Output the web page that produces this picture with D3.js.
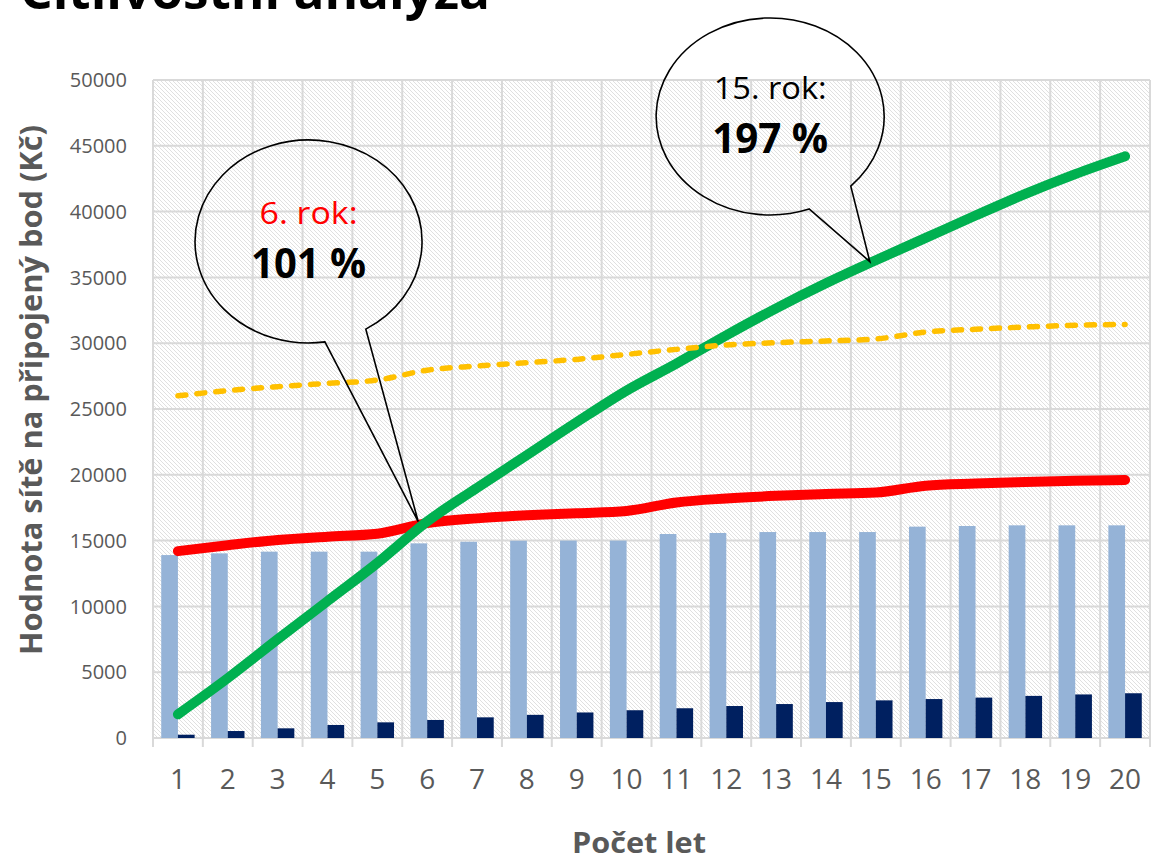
<!DOCTYPE html>
<html><head><meta charset="utf-8">
<script src="https://cdn.jsdelivr.net/npm/d3@7"></script>
<style>body{margin:0;background:#fff} svg{display:block}</style>
</head><body><svg id="c" width="1153" height="862"></svg>
<script>
// ---------- data ----------
const years = ["1","2","3","4","5","6","7","8","9","10","11","12","13","14","15","16","17","18","19","20"];
const yTicks = [0,5000,10000,15000,20000,25000,30000,35000,40000,45000,50000];
const lightBars = [13900,14030,14160,14160,14160,14790,14910,14990,15000,15000,15500,15580,15650,15650,15650,16060,16110,16160,16160,16160];
const darkBars  = [250,530,735,990,1190,1370,1570,1760,1940,2110,2260,2430,2580,2730,2860,2960,3070,3200,3310,3400];
const redLine   = [14200,14650,15050,15300,15520,16330,16690,16920,17080,17250,17900,18200,18400,18540,18650,19170,19330,19450,19550,19600];
const greenLine = [1800,4550,7500,10400,13300,16450,19000,21500,24000,26400,28450,30600,32650,34550,36300,38000,39700,41350,42850,44200];
const dashLine  = [26000,26400,26700,26950,27200,27950,28270,28520,28770,29150,29530,29860,30040,30170,30320,30850,31060,31230,31360,31430];
const titleText = "Citlivostní analýza";
const yTitle = "Hodnota sítě na připojený bod (Kč)";
const xTitle = "Počet let";
const calloutLine1 = ["6. rok:", "15. rok:"];
const calloutLine2 = ["101 %", "197 %"];
const calloutCenterYear = [3.62, 12.88];
const calloutCenterValue = [37730, 47230];
const calloutTipYear = [5.82, 14.88];
const calloutTipValue = [16450, 36200];

// ---------- layout ----------
const L = 153, R = 1150, T = 80, B = 738;
const FONT = "'Open Sans', 'Noto Sans', sans-serif";
const svg = d3.select("#c");

const x = d3.scaleBand().domain(years).range([L, R]).paddingInner(0.33).paddingOuter(0.165);
const x1 = d3.scaleBand().domain(["a","b"]).range([0, x.bandwidth()]);
const xc = d3.scaleLinear().domain([0.5, 20.5]).range([L, R]);
const y = d3.scaleLinear().domain([0, 50000]).range([B, T]);
const cx = (d,i) => x(years[i]) + x.bandwidth()/2;

// hatch pattern
const defs = svg.append("defs");
const pat = defs.append("pattern").attr("id","hatch").attr("patternUnits","userSpaceOnUse")
  .attr("width",4).attr("height",4);
pat.append("rect").attr("width",4).attr("height",4).attr("fill","#fff");
pat.append("path").attr("d","M-1,-1 L5,5 M3,-1 L5,1 M-1,3 L1,5").attr("stroke","#d6d6d6").attr("stroke-width",0.75);

svg.append("rect").attr("x",L).attr("y",T).attr("width",R-L).attr("height",B-T).attr("fill","url(#hatch)");

// gridlines
const grid = svg.append("g").attr("stroke","#d9d9d9").attr("stroke-width",2);
grid.selectAll(".h").data(yTicks).join("line")
  .attr("x1",L).attr("x2",R).attr("y1",d=>y(d)).attr("y2",d=>y(d));
grid.selectAll(".v").data(d3.range(0, years.length+1)).join("line")
  .attr("x1",d=>xc(d+0.5)).attr("x2",d=>xc(d+0.5)).attr("y1",T).attr("y2",B+9);

// bars
svg.append("g").selectAll("rect").data(lightBars).join("rect")
  .attr("x",(d,i)=>x(years[i])+x1("a")).attr("width",x1.bandwidth())
  .attr("y",d=>y(d)).attr("height",d=>B-y(d)).attr("fill","#95b3d7");
svg.append("g").selectAll("rect").data(darkBars).join("rect")
  .attr("x",(d,i)=>x(years[i])+x1("b")).attr("width",x1.bandwidth())
  .attr("y",d=>y(d)).attr("height",d=>B-y(d)).attr("fill","#002060");

// lines
const line = d3.line().x(cx).y(d=>y(d)).curve(d3.curveMonotoneX);
svg.append("path").attr("d",line(redLine)).attr("fill","none").attr("stroke","#ff0000")
  .attr("stroke-width",10).attr("stroke-linecap","round").attr("stroke-linejoin","round");
svg.append("path").attr("d",line(greenLine)).attr("fill","none").attr("stroke","#00b050")
  .attr("stroke-width",10).attr("stroke-linecap","round").attr("stroke-linejoin","round");
svg.append("path").attr("d",line(dashLine)).attr("fill","none").attr("stroke","#ffc000")
  .attr("stroke-width",5.5).attr("stroke-dasharray","8 11").attr("stroke-linecap","round");

// axes labels
svg.append("g").selectAll("text").data(yTicks).join("text")
  .attr("x",127).attr("y",d=>y(d)).attr("dy","0.36em").attr("text-anchor","end")
  .attr("font-family",FONT).attr("font-size",20).attr("fill","#595959").text(d=>d);
svg.append("g").selectAll("text").data(years).join("text")
  .attr("x",(d,i)=>cx(d,i)).attr("y",789).attr("text-anchor","middle")
  .attr("font-family",FONT).attr("font-size",28).attr("fill","#595959").text(d=>d);

svg.append("text").attr("x",639).attr("y",853).attr("text-anchor","middle")
  .attr("font-family",FONT).attr("font-weight","bold").attr("font-size",28).attr("fill","#595959")
  .attr("textLength",134).attr("lengthAdjust","spacingAndGlyphs").text(xTitle);
svg.append("text").attr("transform","translate(42,390) rotate(-90)").attr("text-anchor","middle")
  .attr("font-family",FONT).attr("font-weight","bold").attr("font-size",31).attr("fill","#595959")
  .attr("textLength",530).attr("lengthAdjust","spacingAndGlyphs").text(yTitle);

// title (cut at top, as in the original)
svg.append("text").attr("x",20).attr("y",9)
  .attr("font-family",FONT).attr("font-weight","bold").attr("font-size",50).attr("fill","#000")
  .attr("textLength",470).attr("lengthAdjust","spacingAndGlyphs").text(titleText);

// callouts
const rx = [113.5, 114], ry = [101.5, 98.5];
const baseAng = [[81.7, 59.7], [70, 45]];
const textW1 = [98, 113], textW2 = [115, 116];
const line1Color = ["#ff0000", "#000"];
calloutLine1.forEach((t, k) => {
  const ex = xc(calloutCenterYear[k]), ey = y(calloutCenterValue[k]);
  const P = a => [ex + rx[k]*Math.cos(a*Math.PI/180), ey + ry[k]*Math.sin(a*Math.PI/180)];
  const p1 = P(baseAng[k][0]), p2 = P(baseAng[k][1]);
  const tip = [xc(calloutTipYear[k]), y(calloutTipValue[k])];
  const d = `M${p2[0]},${p2[1]} A${rx[k]},${ry[k]} 0 1 0 ${p1[0]},${p1[1]} L${tip[0]},${tip[1]} Z`;
  svg.append("path").attr("d",d).attr("fill","none").attr("stroke","#000").attr("stroke-width",1.6)
    .attr("stroke-linejoin","miter");
  svg.append("text").attr("x",ex).attr("y",ey-17).attr("text-anchor","middle")
    .attr("font-family",FONT).attr("font-size",31).attr("fill",line1Color[k])
    .attr("textLength",textW1[k]).attr("lengthAdjust","spacingAndGlyphs").text(t);
  svg.append("text").attr("x",ex).attr("y",ey+37).attr("text-anchor","middle")
    .attr("font-family",FONT).attr("font-weight","bold").attr("font-size",41).attr("fill","#000")
    .attr("textLength",textW2[k]).attr("lengthAdjust","spacingAndGlyphs").text(calloutLine2[k]);
});
</script></body></html>
